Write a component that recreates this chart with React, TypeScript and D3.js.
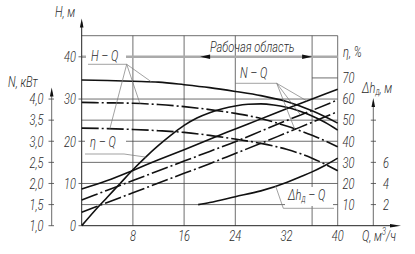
import React from 'react';
import * as d3 from 'd3';

// ---- data ----
const Q_H = [0, 4, 8, 12, 16, 20, 24, 28, 32, 36, 40];
const H1 = [34.5, 34.4, 34.2, 34.0, 33.4, 32.7, 31.8, 30.8, 29.4, 27.2, 24.3];
const H2 = [29.2, 29.1, 29.0, 28.7, 28.2, 27.5, 26.6, 25.4, 23.6, 21.4, 18.7];
const H3 = [23.1, 23.0, 22.8, 22.5, 22.1, 21.4, 20.5, 19.5, 18.1, 16.0, 13.0];

const Q_ETA = [0, 2, 4, 6, 8, 10, 12, 14, 16, 18, 20, 22, 24, 26, 28, 30, 32, 34, 36, 38, 40];
const ETA = [0, 7, 13.5, 20, 26.5, 32.5, 38, 43, 47.5, 51, 53.5, 55.4, 56.7, 57.5, 57.7, 57.2, 56.1, 54.3, 52, 49, 45.3];

const Q_N = [0, 4, 8, 12, 16, 20, 24, 28, 32, 36, 40];
const N1 = [1.87, 2.07, 2.31, 2.56, 2.8, 3.05, 3.29, 3.53, 3.77, 4.0, 4.23];
const N2 = [1.61, 1.84, 2.07, 2.3, 2.53, 2.76, 2.99, 3.24, 3.49, 3.73, 3.98];
const N3 = [1.32, 1.55, 1.78, 2.01, 2.24, 2.47, 2.71, 2.95, 3.2, 3.45, 3.7];

const Q_DH = [18.2, 20, 24, 28, 32, 34, 36, 38, 40];
const DH = [2.0, 2.2, 2.75, 3.3, 4.1, 4.6, 5.1, 5.7, 6.4];

const Q_TICKS = [8, 16, 24, 32, 40];
const Q_GRID = [8, 16, 24, 36, 40];
const H_TICKS = [0, 10, 20, 30, 40];
const N_TICKS = [1.0, 1.5, 2.0, 2.5, 3.0, 3.5, 4.0];
const ETA_TICKS = [10, 20, 30, 40, 50, 60, 70];
const ETA_GRID = [10, 20, 30, 40, 50, 60];
const DH_TICKS = [2, 4, 6, 8, 10];
const DH_LABELS = [2, 4, 6];
const WORK = [18.5, 36];

const FONT = "Roboto, 'DejaVu Sans', sans-serif";
const SX = 0.74;

function T({ x, y, anchor, children, size = 15 }: any) {
  return (
    <text
      transform={`translate(${x},${y}) scale(${SX},1)`}
      textAnchor={anchor || 'start'}
      style={{ fontFamily: FONT, fontStyle: 'italic', fontWeight: 300, fontSize: size, fill: '#2a2a2a' }}
    >
      {children}
    </text>
  );
}

export default function App() {
  const L = 81.7, R = 337.7, B = 225.7, Tp = 35.7;
  const x = d3.scaleLinear().domain([0, 40]).range([L, R]);
  const yH = d3.scaleLinear().domain([0, 45]).range([B, Tp]);
  const yE = d3.scaleLinear().domain([0, 90]).range([B, Tp]);
  const yN = d3.scaleLinear().domain([1, 5.5]).range([B, Tp]);
  const yD = d3.scaleLinear().domain([0, 18]).range([B, Tp]);

  const mk = (qs: number[], vs: number[], ys: any) =>
    d3.line<number>().x((_, i) => x(qs[i])).y((v) => ys(v)).curve(d3.curveMonotoneX)(vs) || '';

  const interp = (qs: number[], vs: number[], q: number) => {
    for (let i = 0; i < qs.length - 1; i++) {
      if (q >= qs[i] && q <= qs[i + 1]) {
        const t = (q - qs[i]) / (qs[i + 1] - qs[i]);
        return vs[i] + t * (vs[i + 1] - vs[i]);
      }
    }
    return vs[vs.length - 1];
  };

  const DD = '17 3 2 3';
  const grid = '#4a4a4a';
  const lead = '#7a7a7a';
  const fmtN = (v: number) => d3.format('.1f')(v).replace('.', ',');

  const curves = [
    { d: mk(Q_H, H1, yH), dash: undefined },
    { d: mk(Q_H, H2, yH), dash: DD },
    { d: mk(Q_H, H3, yH), dash: DD },
    { d: mk(Q_ETA, ETA, yE), dash: undefined },
    { d: mk(Q_N, N1, yN), dash: undefined },
    { d: mk(Q_N, N2, yN), dash: DD },
    { d: mk(Q_N, N3, yN), dash: DD },
    { d: mk(Q_DH, DH, yD), dash: undefined },
  ];

  const hq = [
    [10.9, yH(interp(Q_H, H1, 10.9))],
    [9.1, yH(interp(Q_H, H2, 9.1))],
    [4.4, yH(interp(Q_H, H3, 4.4))],
  ];
  const nq = [
    [35.2, yN(interp(Q_N, N1, 35.2))],
    [34.2, yN(interp(Q_N, N2, 34.2))],
    [33.3, yN(interp(Q_N, N3, 33.3))],
  ];
  const etaPt = [10, yE(interp(Q_ETA, ETA, 10))];
  const dhPt = [30.3, yD(interp(Q_DH, DH, 30.3))];

  const arrowUp = (cx: number, tip: number) => `M${cx},${tip} L${cx - 1.8},${tip + 9} L${cx + 1.8},${tip + 9} Z`;

  return (
    <svg width={415} height={254} style={{ position: 'absolute', left: 0, top: 0, background: '#fff' }}>
      <rect x={0} y={0} width={415} height={254} fill="#fff" />
      {ETA_GRID.map((e) => (
        <line key={'he' + e} x1={L} x2={R} y1={yE(e)} y2={yE(e)} stroke={grid} strokeWidth={0.8} />
      ))}
      <line x1={x(36)} x2={R} y1={yE(70)} y2={yE(70)} stroke={grid} strokeWidth={0.8} />
      <line x1={L} x2={R} y1={Tp} y2={Tp} stroke={grid} strokeWidth={0.8} />
      {Q_GRID.map((q) => (
        <line key={'v' + q} x1={x(q)} x2={x(q)} y1={Tp} y2={B} stroke={grid} strokeWidth={0.8} />
      ))}
      <line x1={L} x2={R} y1={yH(40)} y2={yH(40)} stroke="#aaaaaa" strokeWidth={2.4} />
      <path d={`M${x(WORK[0])},${yH(40)} l10,-2.2 l0,4.4 Z`} fill="#111" />
      <path d={`M${x(WORK[1])},${yH(40)} l-10,-2.2 l0,4.4 Z`} fill="#111" />
      <T x={210} y={52}>Рабочая область</T>

      <line x1={L} x2={L} y1={B} y2={22} stroke="#222" strokeWidth={1} />
      <path d={arrowUp(L, 18.5)} fill="#111" />
      <line x1={51.7} x2={51.7} y1={B} y2={92} stroke="#444" strokeWidth={0.8} />
      <path d={arrowUp(51.7, 87.5)} fill="#111" />
      <line x1={373.3} x2={373.3} y1={B} y2={102} stroke="#444" strokeWidth={0.8} />
      <path d={arrowUp(373.3, 98)} fill="#111" />
      <line x1={L} x2={395} y1={B} y2={B} stroke="#222" strokeWidth={1} />
      <path d={`M401,${B} L390,${B - 1.8} L390,${B + 1.8} Z`} fill="#111" />

      {curves.map((c, i) => (
        <path key={'c' + i} d={c.d} fill="none" stroke="#111" strokeWidth={1.6} strokeDasharray={c.dash} />
      ))}

      <rect x={86} y={49} width={40} height={14} fill="#fff" />
      <T x={91} y={61}>H – Q</T>
      <line x1={88} x2={126.7} y1={64.3} y2={64.3} stroke={lead} strokeWidth={0.7} />
      {hq.map((p, i) => (
        <line key={'hl' + i} x1={126.7} y1={64.3} x2={x(p[0])} y2={p[1]} stroke={lead} strokeWidth={0.7} />
      ))}

      <rect x={85} y={135} width={41} height={14} fill="#fff" />
      <T x={90} y={147}>η – Q</T>
      <polyline points={`85,154 124,154 ${x(etaPt[0])},${etaPt[1]}`} fill="none" stroke={lead} strokeWidth={0.7} />

      <T x={240} y={78}>N – Q</T>
      <line x1={235} x2={276.7} y1={83.3} y2={83.3} stroke={lead} strokeWidth={0.7} />
      {nq.map((p, i) => (
        <line key={'nl' + i} x1={276.7} y1={83.3} x2={x(p[0])} y2={p[1]} stroke={lead} strokeWidth={0.7} />
      ))}

      <rect x={285} y={187} width={48} height={19} fill="#fff" />
      <T x={288} y={200}>
        Δh<tspan fontSize={10} dy={2}>д</tspan><tspan dy={-2}> – Q</tspan>
      </T>
      <polyline points={`${x(dhPt[0])},${dhPt[1]} 283.3,208.3 334,208.3`} fill="none" stroke={lead} strokeWidth={0.7} />

      {H_TICKS.map((h) => (
        <g key={'ht' + h}>
          <line x1={78.5} x2={L} y1={yH(h)} y2={yH(h)} stroke="#444" strokeWidth={0.8} />
          <T x={76} y={yH(h) + 5.3} anchor="end">{h}</T>
        </g>
      ))}
      {N_TICKS.map((n) => (
        <g key={'nt' + n}>
          <line x1={48.5} x2={54} y1={yN(n)} y2={yN(n)} stroke="#444" strokeWidth={0.8} />
          <T x={43.5} y={yN(n) + 5.3} anchor="end">{fmtN(n)}</T>
        </g>
      ))}
      {ETA_TICKS.map((e) => (
        <T key={'et' + e} x={342.5} y={yE(e) + 5.3}>{e}</T>
      ))}
      {DH_TICKS.map((v) => (
        <line key={'dt' + v} x1={370.8} x2={376} y1={yD(v)} y2={yD(v)} stroke="#444" strokeWidth={0.8} />
      ))}
      {DH_LABELS.map((v) => (
        <T key={'dl' + v} x={383} y={yD(v) + 5.3}>{v}</T>
      ))}
      {Q_TICKS.map((q) => (
        <T key={'qt' + q} x={x(q)} y={241} anchor="middle">{q}</T>
      ))}

      <T x={55} y={16.5}>H, м</T>
      <T x={8} y={87}>N, кВт</T>
      <T x={343} y={57}>η, %</T>
      <T x={362} y={93}>
        Δh<tspan fontSize={10} dy={2}>д</tspan><tspan dy={-2}>, м</tspan>
      </T>
      <T x={362} y={241}>
        Q, м<tspan fontSize={10} dy={-6}>3</tspan><tspan dy={6}>/ч</tspan>
      </T>
    </svg>
  );
}
